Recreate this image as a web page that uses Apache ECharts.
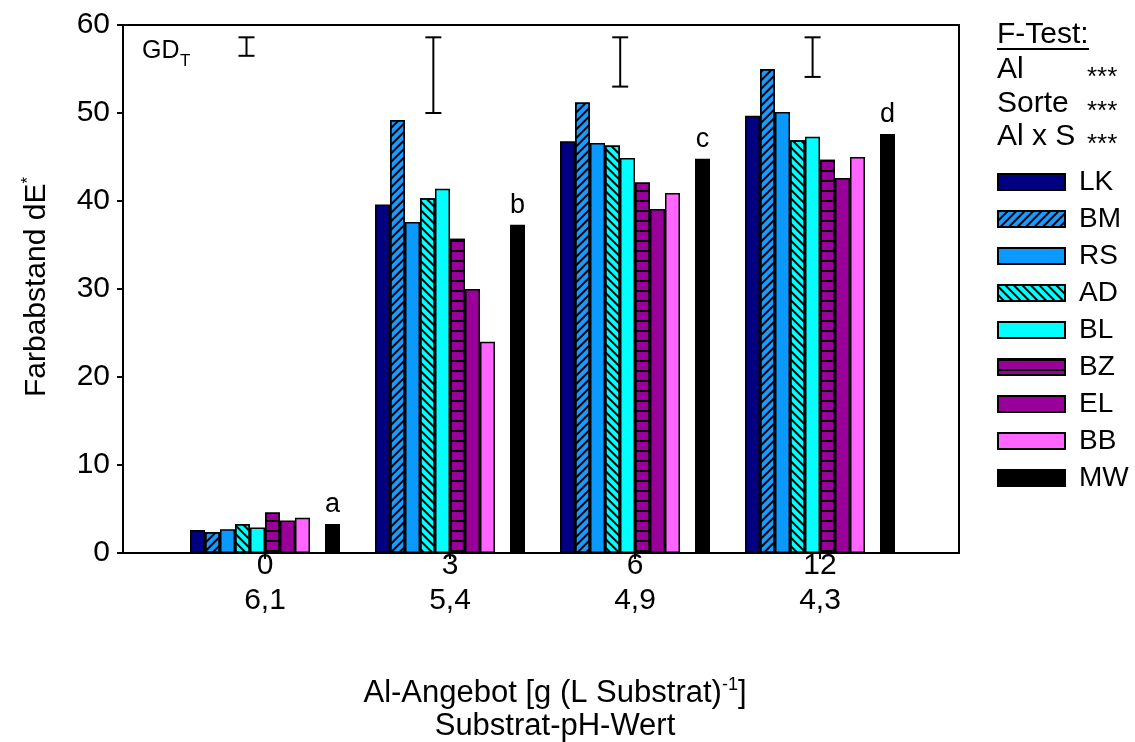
<!DOCTYPE html>
<html>
<head>
<meta charset="utf-8">
<script src="https://cdn.jsdelivr.net/npm/echarts@6/dist/echarts.min.js"></script>
<style>html,body{margin:0;padding:0;background:#fff;}#c{width:1135px;height:742px;}</style>
</head>
<body>
<div id="c"></div>
<script>
const categories = ['0', '3', '6', '12'];
const phValues = ['6,1', '5,4', '4,9', '4,3'];
const seriesNames = ['LK', 'BM', 'RS', 'AD', 'BL', 'BZ', 'EL', 'BB', 'MW'];
const LK = [2.6, 39.6, 46.8, 49.7];
const BM = [2.4, 49.2, 51.2, 55.0];
const RS = [2.7, 37.6, 46.6, 50.1];
const AD = [3.3, 40.3, 46.3, 46.9];
const BL = [2.9, 41.4, 44.9, 47.3];
const BZ = [4.6, 35.7, 42.1, 44.7];
const EL = [3.7, 30.0, 39.1, 42.6];
const BB = [4.0, 24.0, 40.9, 45.0];
const MW = [3.3, 37.3, 44.8, 47.6];
const letters = ['a', 'b', 'c', 'd'];
const gdX = [-0.10, 0.91, 1.92, 2.96];
const gdLow = [56.5, 50.0, 53.0, 54.1];
const gdHigh = [58.6, 58.6, 58.6, 58.6];
const fTestRows = ['Al', 'Sorte', 'Al x S'];
const fTestStars = ['***', '***', '***'];

const FONT = 'Liberation Sans, Arial, sans-serif';
const chart = echarts.init(document.getElementById('c'), null, {renderer: 'canvas'});

const lineDecal = (rot, gap) => ({symbol: 'rect', symbolSize: 1, dashArrayX: [1, 0], dashArrayY: [2, gap], rotation: rot, color: '#000'});

const styles = {
  LK: {color: '#000080'},
  BM: {color: '#1A9AFF', decal: lineDecal(-Math.PI / 4, 4)},
  RS: {color: '#0A99FF'},
  AD: {color: '#00FFFF', decal: lineDecal(Math.PI / 4, 4)},
  BL: {color: '#00FFFF'},
  BZ: {color: '#990099', decal: lineDecal(0, 8)},
  EL: {color: '#990099'},
  BB: {color: '#FF66FF'},
  MW: {color: '#000000'}
};
const dataMap = {LK, BM, RS, AD, BL, BZ, EL, BB, MW};

const barSeries = [];
seriesNames.forEach((n, i) => {
  if (n === 'MW') {
    barSeries.push({
      name: '_gap', type: 'bar', xAxisIndex: 1, yAxisIndex: 1,
      barWidth: 15, barGap: '0%', data: categories.map(() => null)
    });
  }
  const st = styles[n];
  const s = {
    name: n, type: 'bar', xAxisIndex: 1, yAxisIndex: 1,
    barWidth: 15, barGap: '0%',
    data: dataMap[n],
    itemStyle: {color: st.color, borderColor: '#000', borderWidth: 1.5, decal: st.decal},
    emphasis: {disabled: true}
  };
  if (n === 'MW') {
    s.label = {
      show: true, position: 'top', distance: 6, fontSize: 27, color: '#000', fontFamily: FONT,
      formatter: p => letters[p.dataIndex]
    };
  }
  barSeries.push(s);
});

const gdData = gdX.map((x, i) => [x, gdLow[i], gdHigh[i]]);

const option = {
  animation: false,
  backgroundColor: '#fff',
  textStyle: {fontFamily: FONT, color: '#000'},
  aria: {enabled: false, decal: {show: false}},
  grid: [
    {left: 123, right: 176, top: 25, bottom: 189, show: true, borderColor: '#000', borderWidth: 2, backgroundColor: 'transparent'},
    {left: 172.5, width: 740, top: 25, bottom: 189}
  ],
  xAxis: [
    {type: 'value', gridIndex: 0, min: 0, max: 1, show: false},
    {
      type: 'category', gridIndex: 1, data: categories,
      axisLine: {show: false},
      axisTick: {show: true, alignWithLabel: true, length: 6, lineStyle: {color: '#000', width: 2}},
      axisLabel: {
        margin: 0, color: '#000', fontFamily: FONT,
        formatter: (v, idx) => '{a|' + v + '}\n{b|' + phValues[idx] + '}',
        rich: {a: {fontSize: 30, lineHeight: 26, fontFamily: FONT}, b: {fontSize: 30, lineHeight: 44, fontFamily: FONT}}
      }
    },
    {type: 'value', gridIndex: 1, min: -0.5, max: 3.5, show: false}
  ],
  yAxis: [
    {
      type: 'value', gridIndex: 0, min: 0, max: 60, interval: 10,
      axisLine: {show: true, lineStyle: {color: '#000', width: 2}},
      axisTick: {show: true, length: 6, lineStyle: {color: '#000', width: 2}},
      axisLabel: {fontSize: 30, color: '#000', margin: 13, fontFamily: FONT},
      splitLine: {show: false}
    },
    {type: 'value', gridIndex: 1, min: 0, max: 60, interval: 10, show: false, splitLine: {show: false}}
  ],
  legend: {
    left: 997, top: 168, orient: 'vertical', padding: 0,
    data: seriesNames,
    itemWidth: 67, itemHeight: 16, itemGap: 9,
    icon: 'rect',
    textStyle: {fontSize: 28, color: '#000', fontFamily: FONT, padding: [0, 0, 0, 9]},
    selectedMode: false
  },
  series: barSeries.concat([{
    type: 'custom', xAxisIndex: 2, yAxisIndex: 1, data: gdData, clip: false, silent: true,
    renderItem: function (params, api) {
      const x = api.value(0), lo = api.value(1), hi = api.value(2);
      const p1 = api.coord([x, hi]);
      const p2 = api.coord([x, lo]);
      const w = 8;
      const st = {stroke: '#000', lineWidth: 2};
      return {
        type: 'group', children: [
          {type: 'line', shape: {x1: p1[0], y1: p1[1], x2: p2[0], y2: p2[1]}, style: st},
          {type: 'line', shape: {x1: p1[0] - w, y1: p1[1], x2: p1[0] + w, y2: p1[1]}, style: st},
          {type: 'line', shape: {x1: p2[0] - w, y1: p2[1], x2: p2[0] + w, y2: p2[1]}, style: st}
        ]
      };
    }
  }]),
  graphic: [
    {type: 'text', x: 142, y: 51, style: {text: 'GD', verticalAlign: 'middle', fontSize: 25, fontFamily: FONT, fill: '#000'}},
    {type: 'text', x: 180, y: 61, style: {text: 'T', verticalAlign: 'middle', fontSize: 17, fontFamily: FONT, fill: '#000'}},
    {type: 'text', x: 37, y: 287, rotation: Math.PI / 2, style: {
      text: '{m|Farbabstand dE}{s|*}', align: 'center', verticalAlign: 'middle', fill: '#000',
      rich: {m: {fontSize: 30, lineHeight: 34, fontFamily: FONT, fill: '#000'}, s: {fontSize: 17, lineHeight: 17, verticalAlign: 'top', fontFamily: FONT, fill: '#000'}}
    }},
    {type: 'text', x: 555, y: 693, style: {
      text: '{m|Al-Angebot [g (L Substrat)}{s|-1}{m|]}', align: 'center', verticalAlign: 'middle', fill: '#000',
      rich: {m: {fontSize: 31, lineHeight: 34, fontFamily: FONT, fill: '#000'}, s: {fontSize: 18, lineHeight: 18, verticalAlign: 'top', fontFamily: FONT, fill: '#000'}}
    }},
    {type: 'text', x: 555, y: 726, style: {text: 'Substrat-pH-Wert', align: 'center', verticalAlign: 'middle', fontSize: 31, fontFamily: FONT, fill: '#000'}},
    {type: 'text', x: 997, y: 35, style: {text: 'F-Test:', verticalAlign: 'middle', fontSize: 30, fontFamily: FONT, fill: '#000'}},
    {type: 'line', shape: {x1: 997, y1: 49, x2: 1089, y2: 49}, style: {stroke: '#000', lineWidth: 2}},
    ...fTestRows.map((t, i) => ({type: 'text', x: 997, y: 70 + i * 33.5, style: {text: t, verticalAlign: 'middle', fontSize: 30, fontFamily: FONT, fill: '#000'}})),
    ...fTestStars.map((t, i) => ({type: 'text', x: 1087, y: 78 + i * 33.5, style: {text: t, verticalAlign: 'middle', fontSize: 26, fontFamily: FONT, fill: '#000'}}))
  ]
};
chart.setOption(option);
</script>
</body>
</html>
